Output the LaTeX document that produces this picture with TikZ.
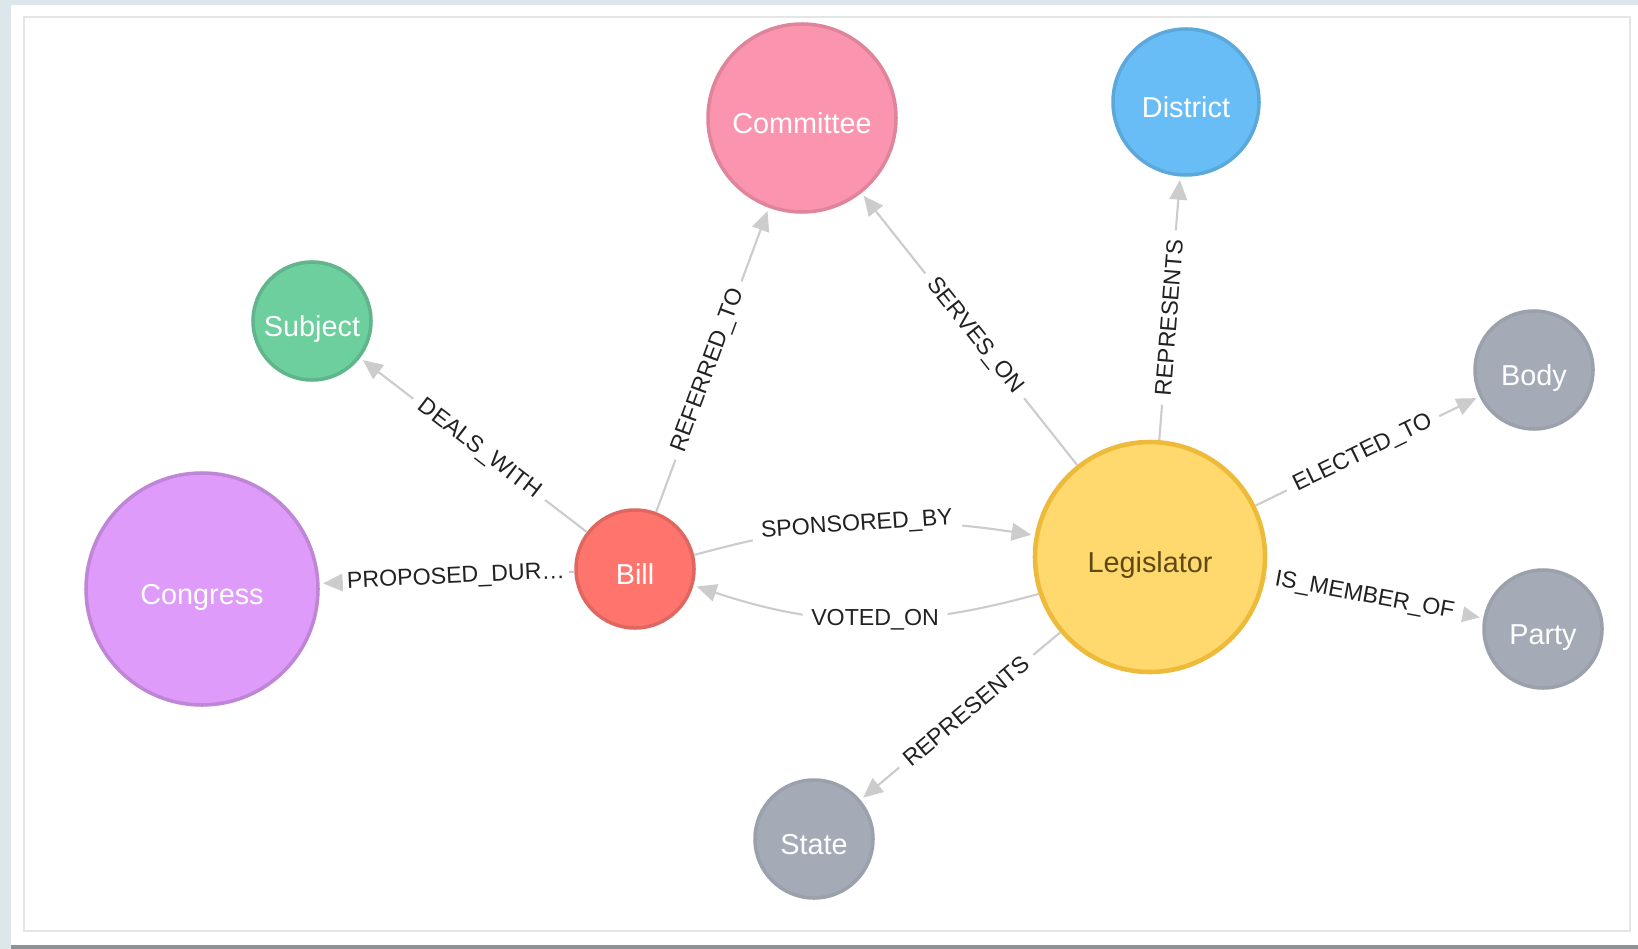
\documentclass[tikz,border=0pt]{standalone}
\usepackage{fontspec}
\setmainfont{Liberation Sans}
\usetikzlibrary{arrows.meta}
\definecolor{cBack}{HTML}{DDE7EB}
\definecolor{cShadow}{HTML}{8C9398}
\definecolor{cFrame}{HTML}{E4E6E6}
\definecolor{cRel}{HTML}{CCCCCC}
\definecolor{cRelText}{HTML}{222222}
\definecolor{cCommittee}{HTML}{FB95AF}
\definecolor{cCommitteeLine}{HTML}{E0849B}
\definecolor{cDistrict}{HTML}{68BDF6}
\definecolor{cDistrictLine}{HTML}{5CA8DB}
\definecolor{cSubject}{HTML}{6DCE9E}
\definecolor{cSubjectLine}{HTML}{60B58B}
\definecolor{cCongress}{HTML}{DE9BF9}
\definecolor{cCongressLine}{HTML}{BF85D6}
\definecolor{cBill}{HTML}{FF756E}
\definecolor{cBillLine}{HTML}{E06760}
\definecolor{cLegislator}{HTML}{FFD86E}
\definecolor{cLegislatorLine}{HTML}{EDBA39}
\definecolor{cLegislatorText}{HTML}{5E4A12}
\definecolor{cGray}{HTML}{A5ABB6}
\definecolor{cGrayLine}{HTML}{9AA1AC}
\tikzset{
  graphnode/.style={circle, inner sep=0pt, line width=1pt, text=white,
    text height=0.9em, text depth=0pt, font=\fontsize{8.2}{10}\selectfont},
  committeenode/.style={graphnode, fill=cCommittee, draw=cCommitteeLine, minimum size=1.88cm},
  districtnode/.style={graphnode, fill=cDistrict, draw=cDistrictLine, minimum size=1.46cm},
  subjectnode/.style={graphnode, fill=cSubject, draw=cSubjectLine, minimum size=1.18cm},
  congressnode/.style={graphnode, fill=cCongress, draw=cCongressLine, minimum size=2.32cm},
  billnode/.style={graphnode, fill=cBill, draw=cBillLine, minimum size=1.18cm},
  legislatornode/.style={graphnode, fill=cLegislator, draw=cLegislatorLine, line width=1.3pt,
    text=cLegislatorText, minimum size=2.3cm},
  graynode/.style={graphnode, fill=cGray, draw=cGrayLine, minimum size=1.18cm},
  rel/.style={-{Triangle[length=5.6pt, width=5pt]}, line width=0.6pt, draw=cRel,
    shorten >=1pt},
  rellabel/.style={sloped, fill=white, text=cRelText, inner xsep=2.5pt,
    inner ysep=1pt, font=\fontsize{6.6}{8}\selectfont},
}

\begin{document}
\begin{tikzpicture}[x=0.1mm, y=0.1mm]

  % ----------------------------------------------------------------
  % Page: backdrop, white panel and its thin frame
  % ----------------------------------------------------------------
  \useasboundingbox (0,0) rectangle (1638,-949);
  \fill[cBack] (0,0) rectangle (1638,-949);
  \fill[cShadow] (11,-944) rectangle (1638,-949);
  \fill[white] (11,-5) rectangle (1638,-945);
  \draw[cFrame, line width=0.5pt] (24,-17) rectangle (1630,-931);

  % ----------------------------------------------------------------
  % Nodes (one circle per label)
  % ----------------------------------------------------------------
  \node[committeenode] (committee) at (802,-118) {Committee};
  \node[districtnode] (district) at (1186,-102) {District};
  \node[subjectnode] (subject) at (312,-321) {Subject};
  \node[congressnode] (congress) at (202,-589) {Congress};
  \node[billnode] (bill) at (635,-569) {Bill};
  \node[legislatornode] (legislator) at (1150,-557) {Legislator};
  \node[graynode] (body) at (1534,-370) {Body};
  \node[graynode] (party) at (1543,-629) {Party};
  \node[graynode] (state) at (814,-839) {State};

  % ----------------------------------------------------------------
  % Relationships out of Bill
  % ----------------------------------------------------------------
  \draw[rel] (bill) -- (subject) node[rellabel, pos=0.475] {DEALS\_WITH};
  \draw[rel] (bill) -- (congress) node[rellabel, pos=0.465, inner xsep=1.2pt] {PROPOSED\_DUR\ldots};
  \draw[rel] (bill) -- (committee) node[rellabel, pos=0.465] {REFERRED\_TO};
  \draw[rel] (bill) to[bend left=12] node[rellabel, pos=0.48] {SPONSORED\_BY} (legislator);

  % ----------------------------------------------------------------
  % Relationships out of Legislator
  % ----------------------------------------------------------------
  \draw[rel] (legislator) to[bend left=17] node[rellabel, pos=0.47] {VOTED\_ON} (bill);
  \draw[rel] (legislator) -- (committee) node[rellabel, pos=0.475] {SERVES\_ON};
  \draw[rel] (legislator) -- (district) node[rellabel, pos=0.465] {REPRESENTS};
  \draw[rel] (legislator) -- (body) node[rellabel, pos=0.48] {ELECTED\_TO};
  \draw[rel] (legislator) -- (party) node[rellabel, pos=0.455] {IS\_MEMBER\_OF};
  \draw[rel] (legislator) -- (state) node[rellabel, pos=0.47] {REPRESENTS};

\end{tikzpicture}
\end{document}
